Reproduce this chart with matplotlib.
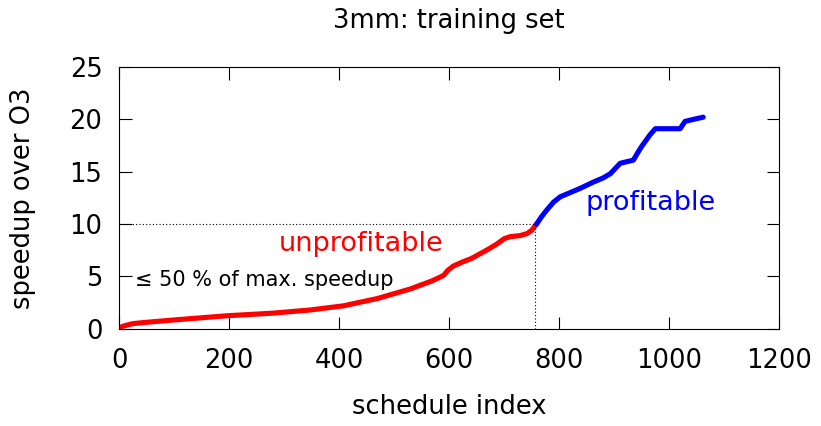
import matplotlib.pyplot as plt

# schedules sorted by speedup, split at half of the best speedup
unprof_idx = [0, 10, 25, 44, 100, 196, 280, 347, 408, 470, 529, 570, 590, 598, 608, 625, 640, 668, 687, 700, 711, 729, 742, 750, 759]
unprof_speedup = [0.1, 0.3, 0.5, 0.6, 0.85, 1.25, 1.5, 1.8, 2.2, 2.9, 3.8, 4.6, 5.1, 5.6, 6.0, 6.4, 6.7, 7.5, 8.1, 8.6, 8.8, 8.9, 9.1, 9.4, 10.0]

prof_idx = [759, 768, 777, 790, 802, 820, 838, 862, 880, 893, 911, 935, 944, 950, 965, 975, 1020, 1029, 1045, 1062]
prof_speedup = [10.0, 10.7, 11.3, 12.1, 12.6, 13.0, 13.4, 14.0, 14.4, 14.8, 15.8, 16.1, 16.9, 17.4, 18.5, 19.1, 19.1, 19.8, 20.0, 20.2]

threshold = 10.0
threshold_idx = 757

fig = plt.figure(figsize=(8.21, 4.26), dpi=100)
ax = fig.add_axes([0.145, 0.228, 0.804, 0.615])

ax.plot(unprof_idx, unprof_speedup, color='red', lw=3.7, solid_capstyle='round', solid_joinstyle='round')
ax.plot(prof_idx, prof_speedup, color='blue', lw=3.7, solid_capstyle='round', solid_joinstyle='round')

ax.plot([0, threshold_idx], [threshold, threshold], color='black', lw=0.8, ls=(0, (1, 2)))
ax.plot([threshold_idx, threshold_idx], [0, threshold], color='black', lw=0.8, ls=(0, (1, 2)))

ax.text(440, 8.1, 'unprofitable', color='red', fontsize=19.5, ha='center', va='center')
ax.text(967, 12.0, 'profitable', color='blue', fontsize=19.5, ha='center', va='center')
ax.text(29, 4.7, '≤ 50 % of max. speedup', color='black', fontsize=15, ha='left', va='center')

ax.set_xlim(0, 1200)
ax.set_ylim(0, 25)
ax.set_xticks(range(0, 1201, 200))
ax.set_yticks(range(0, 26, 5))
ax.tick_params(direction='in', length=9, width=0.8, top=True, right=True, labelsize=18.5)
ax.tick_params(axis='x', pad=14)
ax.tick_params(axis='y', pad=12)
for s in ax.spines.values():
    s.set_linewidth(0.8)

ax.set_xlabel('schedule index', fontsize=18.5, labelpad=14)
ax.set_ylabel('speedup over O3', fontsize=18.5, labelpad=24)
ax.set_title('3mm: training set', fontsize=18.5, pad=28)

fig.savefig('out.png', dpi=100)
